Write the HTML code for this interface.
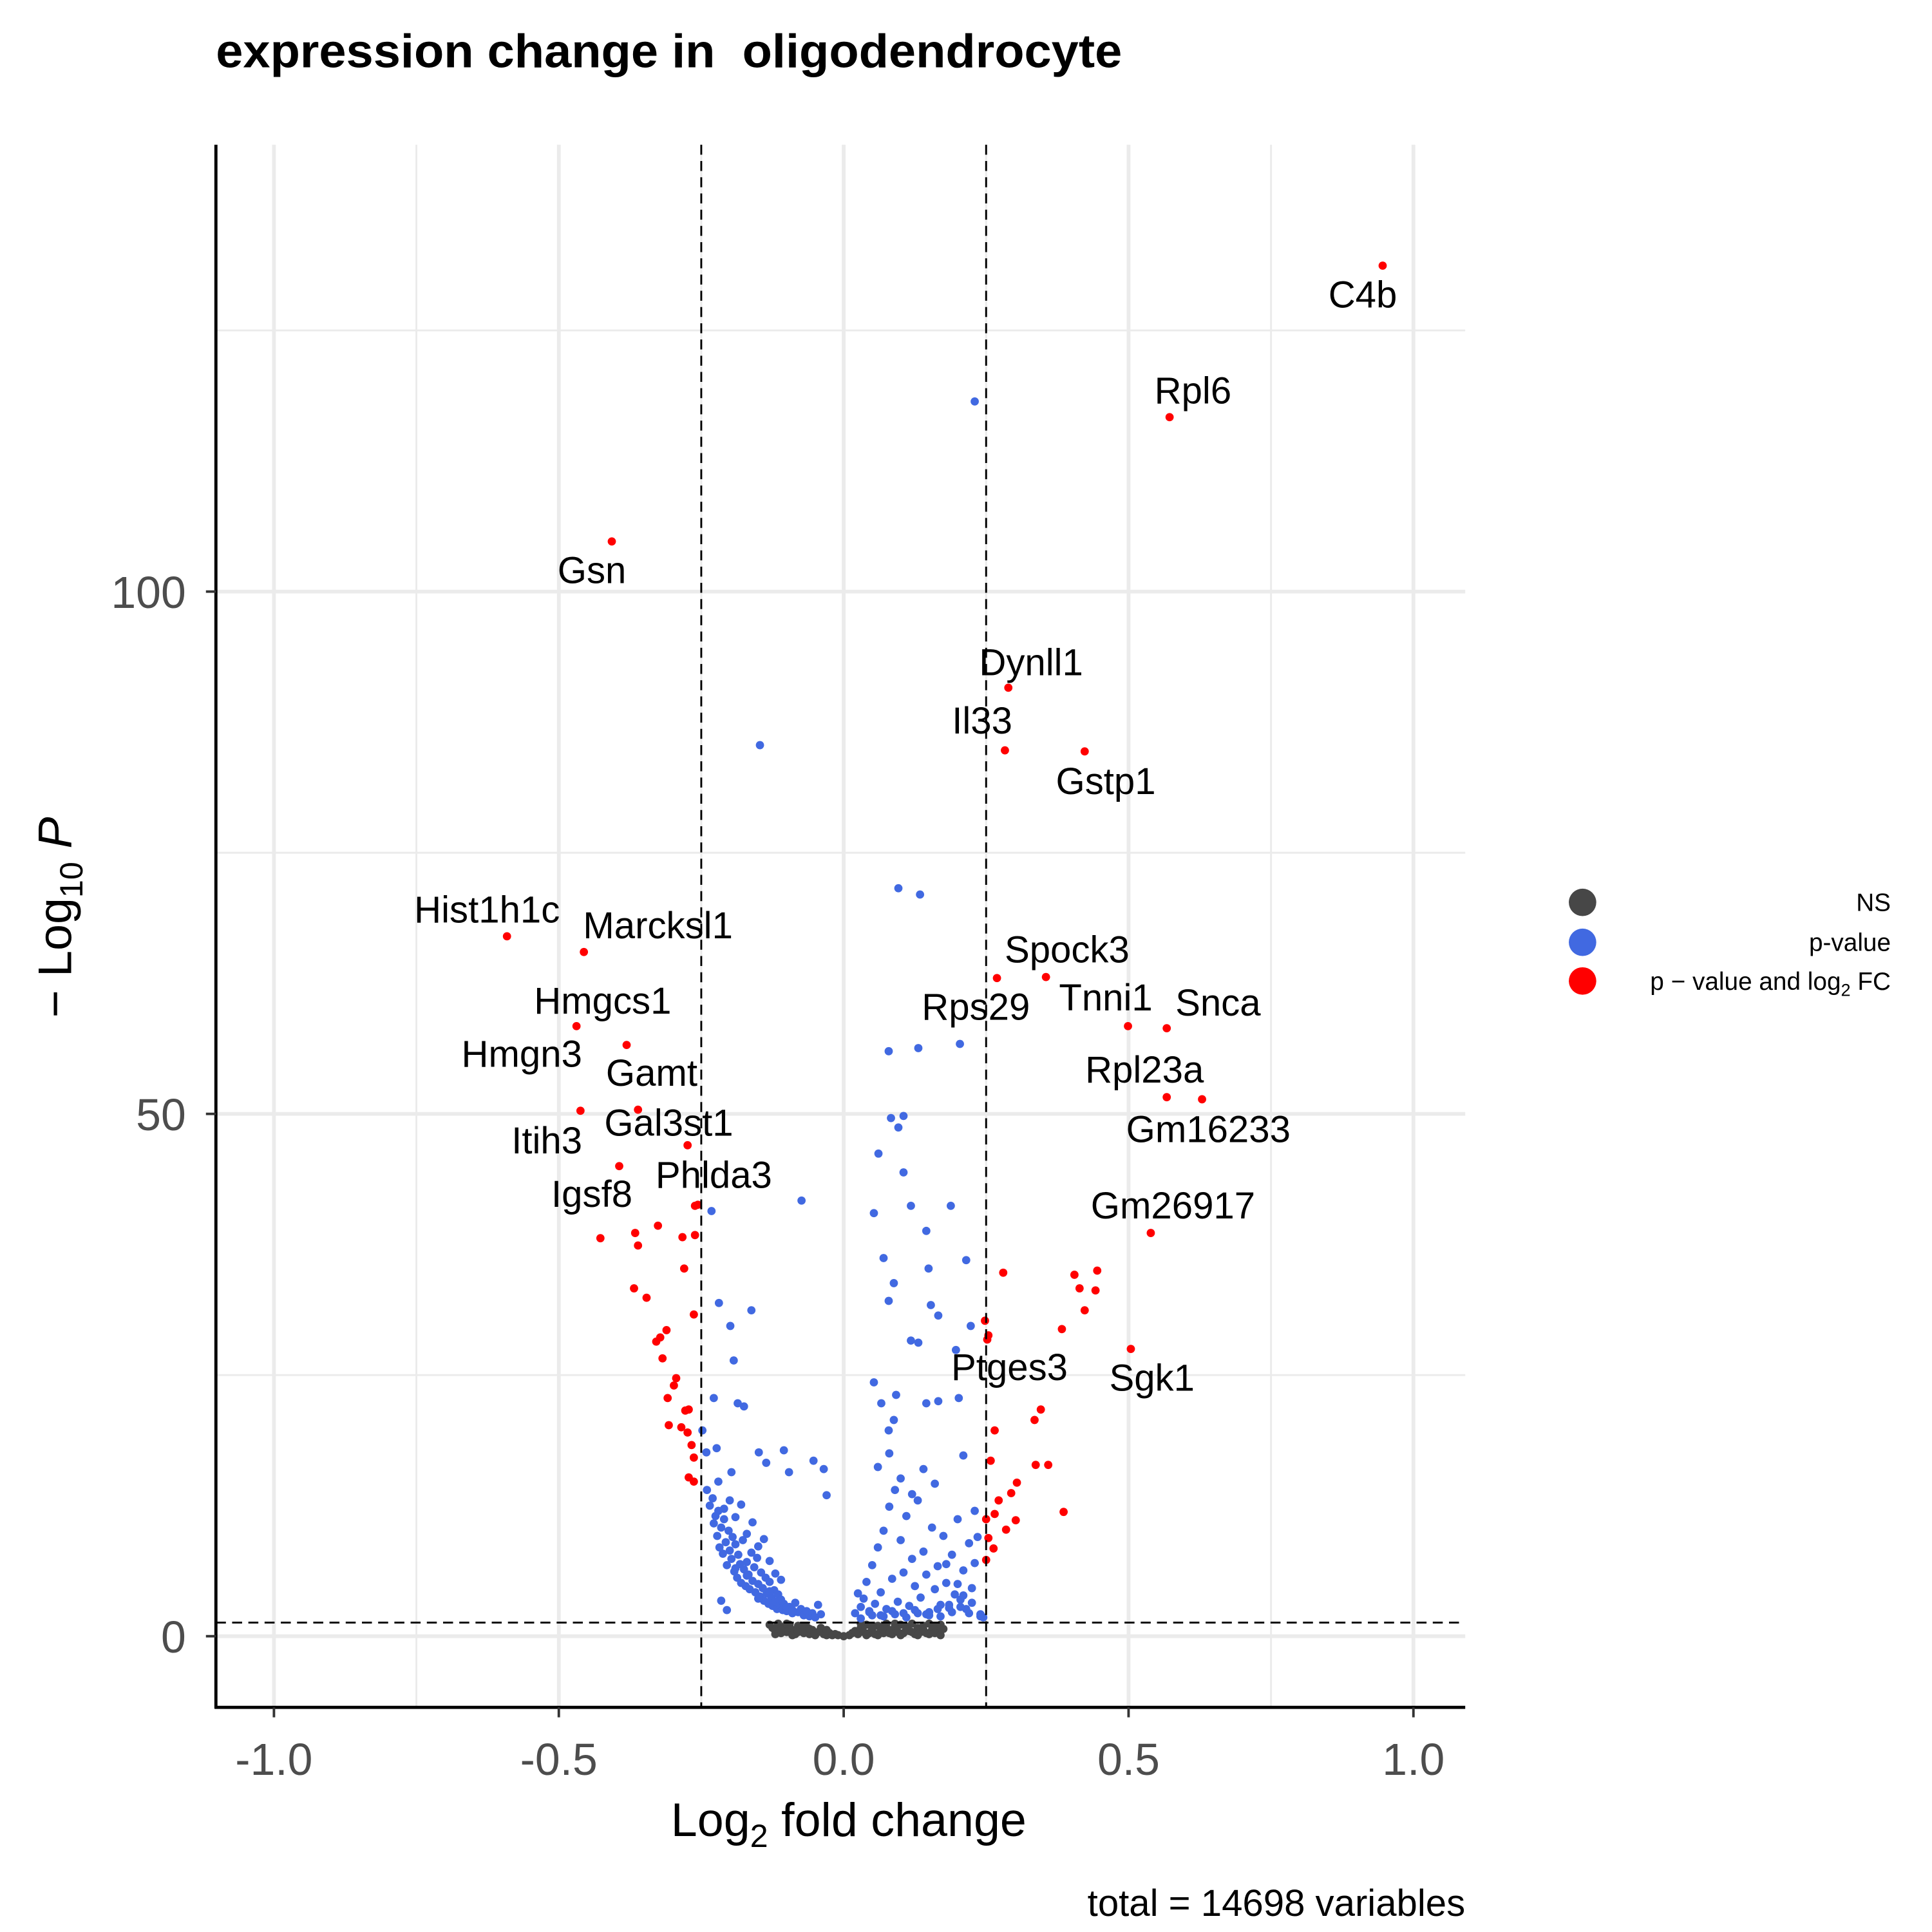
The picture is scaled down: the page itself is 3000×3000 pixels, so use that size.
<!DOCTYPE html>
<html><head><meta charset="utf-8"><style>
html,body{margin:0;padding:0;background:#fff;}
svg{display:block;font-family:"Liberation Sans",Arial,sans-serif;}
</style></head><body>
<svg id="chart" width="3000" height="3000" viewBox="0 0 1548 1548" xmlns="http://www.w3.org/2000/svg">
<text x="173" y="54" font-size="38" font-weight="bold" style="white-space:pre" textLength="726" lengthAdjust="spacingAndGlyphs">expression change in  oligodendrocyte</text>
<g id="grid"></g>
<g id="points"></g>
<g id="labels"></g>
<g id="axes"></g>
<text x="680" y="1471" font-size="38" text-anchor="middle">Log<tspan font-size="26" dy="9">2</tspan><tspan dy="-9"> fold change</tspan></text>
<text transform="translate(57,735) rotate(-90)" font-size="38" text-anchor="middle">− Log<tspan font-size="26" dy="9">10</tspan><tspan dy="-9" font-style="italic"> P</tspan></text>
<text x="1174" y="1535" font-size="30" text-anchor="end">total = 14698 variables</text>
<g>
<circle cx="1268" cy="723" r="11" fill="#474747"/>
<circle cx="1268" cy="755" r="11" fill="#4169e1"/>
<circle cx="1268" cy="786" r="11" fill="#ff0000"/>
<text x="1515" y="730" font-size="20" text-anchor="end">NS</text>
<text x="1515" y="762" font-size="20" text-anchor="end">p-value</text>
<text x="1515" y="793" font-size="20" text-anchor="end">p − value and log<tspan font-size="14" dy="5">2</tspan><tspan dy="-5"> FC</tspan></text>
</g>
</svg>
<script>
const xTicks=[-1.0,-0.5,0.0,0.5,1.0];
const xTickLabels=["-1.0","-0.5","0.0","0.5","1.0"];
const xMinor=[-0.75,-0.25,0.25,0.75];
const yTicks=[0,50,100];
const yTickLabels=["0","50","100"];
const yMinor=[25,75,125];
const fcCut=[-0.25,0.25];
const pCut=1.30103;
const labelNames=["C4b","Rpl6","Gsn","Dynll1","Il33","Gstp1","Hist1h1c","Marcksl1","Spock3","Tnni1","Snca","Hmgcs1","Hmgn3","Gamt","Rpl23a","Gm16233","Gal3st1","Itih3","Igsf8","Phlda3","Gm26917","Ptges3","Sgk1","Rps29"];
const labelX=[0.911,0.613,-0.442,0.329,0.243,0.460,-0.626,-0.326,0.392,0.460,0.657,-0.423,-0.565,-0.337,0.528,0.640,-0.307,-0.521,-0.442,-0.228,0.578,0.291,0.541,0.232];
const labelY=[128.4,119.2,102.0,93.2,87.6,81.8,69.5,68.0,65.7,61.1,60.6,60.8,55.7,53.9,54.2,48.5,49.1,47.4,42.3,44.1,41.2,25.7,24.7,60.2];
const redX=[0.946,0.572,-0.407,0.289,0.283,0.423,-0.591,-0.456,0.269,0.355,0.499,0.567,-0.469,-0.381,-0.361,0.567,0.629,-0.274,-0.462,-0.394,-0.256,0.539,0.252,0.504,
-0.427,-0.366,-0.361,-0.326,-0.283,-0.261,-0.280,-0.368,-0.346,-0.263,-0.311,-0.322,-0.329,-0.318,-0.294,-0.298,-0.309,-0.272,-0.278,-0.285,-0.307,-0.274,-0.267,-0.263,-0.272,-0.263,-0.261,
0.280,0.405,0.445,0.414,0.442,0.423,0.383,0.248,0.254,0.346,0.335,0.337,0.359,0.265,0.258,0.304,0.294,0.272,0.265,0.386,0.302,0.285,0.250,0.254,0.263,0.250];
const redY=[131.2,116.7,104.8,90.8,84.8,84.7,67.0,65.5,63.0,63.1,58.4,58.2,58.4,56.6,50.4,51.6,51.4,47.0,50.3,45.0,41.3,38.6,28.4,27.5,
38.1,38.6,37.4,39.3,38.2,38.4,35.2,33.3,32.4,30.8,29.3,28.6,28.2,26.6,24.7,24.0,22.8,21.7,21.6,20.0,20.2,19.5,18.3,17.1,15.2,14.8,41.2,
34.8,34.6,35.0,33.3,33.1,31.2,29.4,30.2,28.8,21.7,20.7,16.4,16.4,19.7,16.8,14.7,13.7,13.0,11.7,11.9,11.1,10.2,11.2,9.4,8.4,7.3];
const blueX=[0.230,-0.147,0.096,0.134,0.204,0.079,0.131,0.083,0.105,0.096,0.061,0.105,-0.232,-0.074,0.053,0.118,0.188,0.145,0.070,0.215,0.149,0.088,0.079,0.153,0.166,-0.219,-0.162,-0.199,0.223,0.118,0.131,0.197,-0.193,0.053,0.092,0.066,0.166,0.145,0.202,0.088,0.079,-0.228,-0.186,-0.175,-0.248,-0.223,-0.241,-0.149,-0.105,-0.136,-0.053,0.210,-0.197,-0.096,
-0.24,-0.235,-0.23,-0.228,-0.225,-0.222,-0.22,-0.218,-0.215,-0.212,-0.21,-0.207,-0.205,-0.202,-0.2,-0.197,-0.195,-0.192,-0.19,-0.187,-0.185,-0.182,-0.18,-0.177,-0.175,-0.172,-0.17,-0.167,-0.165,-0.162,-0.16,-0.157,-0.155,-0.152,-0.15,-0.147,-0.145,-0.142,-0.14,-0.137,-0.135,-0.132,-0.13,-0.127,-0.125,-0.122,-0.12,-0.117,-0.115,-0.112,-0.11,-0.107,-0.105,-0.1,-0.095,-0.09,-0.085,-0.08,-0.075,-0.07,-0.065,-0.06,-0.055,-0.05,-0.045,-0.04,-0.035,-0.03,-0.22,-0.21,-0.2,-0.19,-0.18,-0.17,-0.16,-0.15,-0.14,-0.13,-0.12,-0.11,-0.1,-0.09,-0.15,-0.13,-0.17,-0.19,-0.205,-0.215,
0.02,0.025,0.03,0.035,0.04,0.045,0.05,0.055,0.06,0.065,0.07,0.075,0.08,0.085,0.09,0.095,0.1,0.105,0.11,0.115,0.12,0.125,0.13,0.135,0.14,0.145,0.15,0.155,0.16,0.165,0.17,0.175,0.18,0.185,0.19,0.195,0.2,0.205,0.21,0.215,0.22,0.225,0.23,0.235,0.24,0.245,0.03,0.05,0.07,0.09,0.11,0.13,0.15,0.17,0.19,0.21,0.23,0.06,0.08,0.1,0.12,0.14,0.16,0.18,0.2,0.22,0.24,0.045,0.065,0.085,0.105,0.125,0.145,0.165,0.185,0.205,0.225];
const blueY=[118.2,85.3,71.6,71.0,56.7,56.0,56.3,49.6,49.8,48.7,46.2,44.4,40.7,41.7,40.5,41.2,41.2,38.8,36.2,36.0,35.2,33.8,32.1,31.7,30.7,31.9,31.2,29.7,29.7,28.3,28.1,27.4,26.4,24.3,23.1,22.3,22.5,22.3,22.8,20.7,19.7,22.8,22.3,22.0,19.7,18.0,17.6,17.6,17.8,16.6,16.8,17.3,15.7,15.7,
14.0,12.5,13.2,10.8,11.5,9.6,12.0,8.5,10.4,7.9,11.2,9.0,6.8,10.1,8.2,7.4,9.5,6.2,8.8,5.6,7.8,6.9,5.1,9.2,6.4,4.8,7.1,5.9,4.5,8.0,5.3,6.6,4.2,7.5,5.0,3.8,6.1,4.6,3.4,5.6,4.1,3.1,5.2,3.7,2.9,4.4,3.3,2.6,4.0,3.0,3.5,2.5,3.1,2.4,2.8,2.2,3.2,2.3,2.6,2.0,2.4,1.9,2.2,1.8,3.0,2.1,16.0,13.5,14.8,12.2,13.0,11.4,12.6,9.8,10.9,8.6,9.3,7.2,6.0,5.4,2.8,2.5,3.6,4.3,5.8,6.5,
2.5,3.4,2.2,4.1,2.8,3.6,5.2,2.4,6.8,3.1,8.5,4.2,10.1,2.6,12.4,5.5,14.0,3.3,9.2,6.1,11.5,2.9,7.4,4.8,13.0,3.7,8.1,5.9,2.3,10.4,4.5,6.7,3.0,9.6,5.1,2.7,7.8,4.0,11.2,3.5,6.3,2.6,8.9,4.6,12.0,9.5,1.9,1.8,1.7,2.0,1.9,2.1,1.8,2.2,2.0,1.9,2.3,3.9,7.0,16.2,17.5,15.1,13.6,16.0,14.6,6.9,5.0,2.2,2.1,2.3,2.0,2.4,2.2,2.5,2.1,2.6,3.0,2.8,3.2];
const greyX=[-0.13,-0.125,-0.12,-0.115,-0.11,-0.105,-0.1,-0.095,-0.09,-0.085,-0.08,-0.075,-0.07,-0.065,-0.06,-0.055,-0.05,-0.045,-0.04,-0.035,-0.03,-0.025,-0.02,-0.015,-0.01,0.0,0.01,0.015,0.02,0.025,0.03,0.035,0.04,0.045,0.05,0.055,0.06,0.065,0.07,0.075,0.08,0.085,0.09,0.095,0.1,0.105,0.11,0.115,0.12,0.125,0.13,0.135,0.14,0.145,0.15,0.155,0.16,0.165,0.17,0.175,
-0.12,-0.11,-0.1,-0.09,-0.08,-0.07,-0.06,-0.05,-0.04,-0.03,0.03,0.04,0.05,0.06,0.07,0.08,0.09,0.1,0.11,0.12,0.13,0.14,0.15,0.16,0.17];
const greyY=[1.1,0.8,0.5,1.2,0.3,0.9,0.4,1.1,0.6,0.2,1.0,0.5,0.3,0.9,0.2,0.6,0.1,0.4,0.8,0.2,0.1,0.3,0.1,0.2,0.1,0.0,0.1,0.3,0.5,0.2,0.8,0.4,1.1,0.3,0.7,0.2,1.0,0.5,0.3,1.2,0.6,0.2,0.9,0.4,1.1,0.3,0.7,0.5,1.2,0.2,0.8,0.4,1.0,0.3,1.2,0.6,0.9,0.4,1.1,0.7,
0.2,0.6,1.2,0.1,0.4,0.9,0.7,0.3,0.5,0.6,1.2,0.1,0.9,0.1,0.9,0.3,1.2,0.1,0.9,0.4,0.1,0.6,0.2,0.3,0.1];

const NS="http://www.w3.org/2000/svg";
const X0=173,X1=1174,Y0=116,Y1=1368;
function sx(v){return 676+v*456.5;}
function sy(v){return 1311-v*8.37;}
function mk(tag,attrs,parent){const e=document.createElementNS(NS,tag);for(const k in attrs)e.setAttribute(k,attrs[k]);parent.appendChild(e);return e;}
const grid=document.getElementById('grid'),pts=document.getElementById('points'),lab=document.getElementById('labels'),axes=document.getElementById('axes');
xMinor.forEach(v=>{const l=mk('line',{x1:sx(v),x2:sx(v),y1:Y0,y2:Y1,stroke:'#ebebeb','stroke-width':1.5},grid);

});
yMinor.forEach(v=>{const l=mk('line',{x1:X0,x2:X1,y1:sy(v),y2:sy(v),stroke:'#ebebeb','stroke-width':1.5},grid);

});
xTicks.forEach(v=>{const l=mk('line',{x1:sx(v),x2:sx(v),y1:Y0,y2:Y1,stroke:'#ebebeb','stroke-width':3},grid);

});
yTicks.forEach(v=>{const l=mk('line',{x1:X0,x2:X1,y1:sy(v),y2:sy(v),stroke:'#ebebeb','stroke-width':3},grid);

});
greyX.forEach((v,i)=>{if(!isFinite(greyY[i]))return;const c=mk('circle',{cx:sx(v),cy:sy(greyY[i]),r:3.3,fill:'#474747'},pts);

});
blueX.forEach((v,i)=>{if(!isFinite(blueY[i]))return;const c=mk('circle',{cx:sx(v),cy:sy(blueY[i]),r:3.3,fill:'#4169e1'},pts);

});
redX.forEach((v,i)=>{if(!isFinite(redY[i]))return;const c=mk('circle',{cx:sx(v),cy:sy(redY[i]),r:3.3,fill:'#ff0000'},pts);

});
fcCut.forEach(v=>{const l=mk('line',{x1:sx(v),x2:sx(v),y1:Y0,y2:Y1,stroke:'#000','stroke-width':1.5,'stroke-dasharray':'8,5'},axes);

});
{const l=mk('line',{x1:X0,x2:X1,y1:sy(pCut),y2:sy(pCut),stroke:'#000','stroke-width':1.5,'stroke-dasharray':'8,5'},axes);

}
labelNames.forEach((n,i)=>{const t=mk('text',{x:sx(labelX[i]),y:sy(labelY[i])+10,'font-size':30,'text-anchor':'middle',fill:'#000'},lab);
t.textContent=n;

});
{const l=mk('line',{x1:X0,x2:X0,y1:Y0,y2:Y1+1,stroke:'#000','stroke-width':2.5},axes);

}
{const l=mk('line',{x1:X0-1,x2:X1,y1:Y1,y2:Y1,stroke:'#000','stroke-width':2.5},axes);

}
xTicks.forEach((v,i)=>{const l=mk('line',{x1:sx(v),x2:sx(v),y1:Y1,y2:Y1+8,stroke:'#333','stroke-width':2},axes);


const t=mk('text',{x:sx(v),y:Y1+54,'font-size':36,'text-anchor':'middle',fill:'#4d4d4d'},axes);
t.textContent=xTickLabels[i];

});
yTicks.forEach((v,i)=>{const l=mk('line',{x1:X0-8,x2:X0,y1:sy(v),y2:sy(v),stroke:'#333','stroke-width':2},axes);


const t=mk('text',{x:X0-24,y:sy(v)+13,'font-size':36,'text-anchor':'end',fill:'#4d4d4d'},axes);
t.textContent=yTickLabels[i];

});
</script>
</body></html>
